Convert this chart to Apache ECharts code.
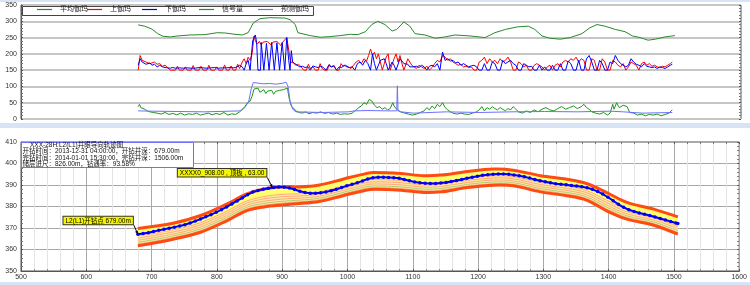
<!DOCTYPE html>
<html><head><meta charset="utf-8">
<script src="https://cdn.jsdelivr.net/npm/echarts/dist/echarts.min.js"></script>
<style>html,body{margin:0;padding:0;background:#fff}#c{width:750px;height:285px}</style>
</head><body><div id="c"></div>
<script>
// ---------- top panel: gamma logs, [depth, value] ----------
var avgGamma = [[679,289],[689,285],[700,276],[709,262],[717,254],[728,252],[740,255],[758,258],[781,259],[800,265],[812,264],[827,260],[838,258],[847,265],[855,295],[865,308],[880,311],[903,310],[911,305],[919,290],[923,265],[942,256],[957,251],[972,253],[987,256],[1003,260],[1015,259],[1026,268],[1036,290],[1045,300],[1056,290],[1067,270],[1074,275],[1085,298],[1094,285],[1102,262],[1117,258],[1133,248],[1148,252],[1163,258],[1186,255],[1209,250],[1224,265],[1240,275],[1259,283],[1275,285],[1285,275],[1296,255],[1308,248],[1324,245],[1339,250],[1357,262],[1369,280],[1380,290],[1392,285],[1408,275],[1423,268],[1434,255],[1446,250],[1458,242],[1469,245],[1484,252],[1499,256]];

var upGamma = [[679,150],[682,195],[685,180],[688,185],[691,175],[694,178],[697,170],[700,172],[704,175],[708,168],[712,170],[716,162],[720,165],[724,158],[728,150],[736,150],[739,162],[742,150],[748,150],[751,160],[754,150],[760,150],[763,164],[766,150],[772,150],[775,162],[778,150],[784,150],[787,165],[790,150],[796,150],[799,160],[802,150],[808,150],[811,166],[814,150],[818,150],[821,163],[824,150],[828,150],[831,168],[834,155],[838,175],[841,185],[844,170],[847,190],[850,180],[853,200],[856,255],[858,240],[861,230],[864,238],[867,228],[870,236],[873,230],[876,238],[879,232],[882,228],[885,236],[888,230],[891,238],[894,232],[897,226],[900,236],[903,232],[906,250],[908,255],[910,200],[912,175],[916,172],[920,165],[924,168],[928,160],[932,150],[936,150],[939,168],[942,155],[946,160],[950,150],[954,150],[957,170],[960,155],[964,150],[968,150],[971,168],[974,160],[978,165],[982,150],[986,150],[989,170],[992,162],[996,165],[1000,160],[1004,155],[1008,165],[1012,175],[1016,180],[1020,170],[1024,185],[1028,178],[1031,195],[1034,215],[1037,195],[1040,205],[1043,185],[1046,200],[1049,175],[1052,150],[1055,150],[1058,190],[1061,200],[1064,150],[1067,150],[1070,185],[1073,200],[1076,175],[1079,195],[1082,170],[1085,150],[1088,150],[1091,185],[1094,175],[1097,165],[1100,160],[1104,155],[1108,165],[1112,160],[1116,155],[1120,162],[1124,150],[1128,158],[1132,170],[1136,180],[1140,175],[1144,195],[1148,190],[1152,180],[1156,185],[1160,175],[1164,170],[1168,165],[1172,168],[1176,160],[1180,162],[1184,158],[1188,160],[1192,150],[1196,150],[1200,175],[1204,180],[1208,190],[1212,170],[1216,185],[1220,175],[1224,180],[1228,170],[1232,185],[1236,175],[1240,180],[1244,190],[1248,175],[1252,150],[1256,150],[1260,175],[1264,170],[1268,160],[1272,165],[1276,150],[1280,150],[1284,165],[1288,170],[1292,165],[1296,160],[1300,150],[1304,160],[1308,165],[1312,150],[1316,165],[1320,170],[1324,160],[1328,175],[1332,180],[1336,175],[1340,185],[1344,180],[1348,190],[1352,175],[1356,185],[1360,180],[1364,150],[1368,150],[1372,185],[1376,180],[1380,150],[1384,150],[1388,185],[1392,175],[1396,150],[1400,150],[1404,180],[1408,175],[1412,165],[1416,160],[1420,170],[1424,150],[1428,160],[1432,175],[1436,170],[1440,165],[1444,150],[1448,170],[1452,175],[1456,165],[1460,170],[1464,162],[1468,165],[1472,160],[1476,158],[1480,162],[1484,160],[1488,165],[1492,170],[1495,175]];

var downGamma = [[679,165],[682,185],[685,175],[688,170],[691,168],[694,165],[697,172],[700,165],[704,168],[708,160],[712,165],[716,160],[720,158],[724,157],[728,156],[732,158],[736,156],[739,160],[742,157],[748,156],[751,158],[754,157],[760,156],[763,160],[766,156],[772,158],[775,160],[778,157],[784,156],[787,162],[790,157],[796,158],[799,160],[802,156],[808,157],[811,162],[814,157],[818,158],[821,160],[824,157],[828,158],[831,162],[834,165],[838,160],[841,150],[844,170],[847,180],[850,150],[853,150],[854,240],[858,258],[860,235],[862,150],[866,150],[867,235],[870,238],[871,150],[874,150],[875,232],[878,236],[879,150],[882,150],[883,235],[886,238],[887,150],[890,150],[891,234],[894,236],[895,150],[898,150],[899,235],[902,240],[903,150],[905,150],[906,250],[908,255],[909,180],[911,150],[913,210],[915,175],[918,170],[922,165],[926,160],[930,162],[934,158],[938,160],[942,150],[946,163],[950,160],[954,158],[958,162],[962,158],[966,150],[970,165],[974,160],[978,162],[982,150],[986,160],[990,158],[994,165],[998,160],[1002,158],[1006,160],[1010,150],[1014,170],[1018,175],[1022,165],[1026,180],[1030,170],[1034,150],[1037,200],[1040,170],[1043,150],[1046,150],[1049,180],[1052,175],[1055,185],[1058,170],[1061,150],[1064,150],[1067,175],[1070,165],[1073,150],[1076,150],[1079,185],[1082,178],[1085,170],[1088,175],[1091,168],[1094,160],[1097,165],[1100,160],[1104,162],[1108,158],[1112,165],[1116,160],[1120,150],[1124,162],[1128,165],[1132,160],[1136,170],[1140,150],[1144,205],[1148,180],[1152,185],[1156,178],[1160,180],[1164,172],[1168,175],[1172,165],[1176,170],[1180,165],[1184,160],[1188,163],[1192,165],[1196,160],[1200,150],[1204,150],[1208,170],[1212,150],[1216,150],[1220,175],[1224,170],[1228,150],[1232,150],[1236,180],[1240,170],[1244,175],[1248,180],[1252,170],[1256,165],[1260,150],[1264,150],[1268,170],[1272,165],[1276,160],[1280,162],[1284,150],[1288,150],[1292,165],[1296,150],[1300,160],[1304,150],[1308,150],[1312,165],[1316,150],[1320,150],[1324,170],[1328,150],[1332,150],[1336,178],[1340,170],[1344,150],[1348,150],[1352,180],[1356,150],[1360,150],[1364,185],[1368,195],[1372,175],[1376,150],[1380,150],[1384,180],[1388,170],[1392,150],[1396,150],[1400,175],[1404,170],[1408,195],[1412,180],[1416,170],[1420,165],[1424,160],[1428,165],[1432,185],[1436,175],[1440,168],[1444,165],[1448,160],[1452,170],[1456,162],[1460,160],[1464,158],[1468,160],[1472,155],[1476,160],[1480,158],[1484,155],[1488,160],[1492,165],[1495,168]];

var signalAmt = [[679,38],[681,45],[683,35],[686,40],[689,30],[693,25],[697,22],[702,20],[708,18],[714,15],[720,20],[726,14],[732,17],[738,13],[744,18],[750,12],[756,16],[762,14],[768,18],[774,12],[780,15],[786,18],[792,13],[798,17],[804,14],[810,20],[816,12],[822,16],[828,14],[834,22],[838,30],[842,38],[846,50],[850,55],[853,70],[856,92],[859,88],[862,95],[865,82],[868,80],[871,90],[874,78],[877,86],[880,82],[883,88],[886,76],[889,85],[892,80],[895,88],[898,84],[901,90],[904,86],[907,95],[910,60],[913,40],[916,35],[920,25],[925,20],[930,18],[935,22],[940,16],[946,20],[952,18],[958,22],[964,17],[970,20],[976,15],[982,18],[988,14],[994,16],[1000,15],[1006,18],[1012,28],[1016,35],[1020,40],[1024,50],[1028,45],[1032,60],[1036,55],[1040,42],[1044,35],[1048,38],[1052,30],[1056,35],[1060,28],[1064,32],[1068,50],[1070,40],[1074,30],[1080,22],[1086,18],[1092,15],[1098,12],[1104,15],[1110,20],[1116,25],[1120,35],[1124,28],[1128,40],[1132,32],[1136,45],[1140,38],[1144,50],[1148,35],[1152,28],[1156,22],[1160,18],[1166,15],[1172,18],[1178,15],[1184,14],[1190,18],[1196,22],[1200,28],[1204,38],[1208,25],[1212,35],[1216,30],[1220,38],[1224,32],[1228,28],[1232,35],[1236,30],[1240,25],[1244,32],[1248,28],[1252,38],[1256,30],[1260,22],[1266,18],[1272,25],[1278,20],[1284,28],[1290,22],[1296,30],[1302,35],[1308,28],[1314,25],[1320,32],[1326,38],[1332,30],[1338,35],[1344,40],[1350,32],[1356,38],[1360,45],[1364,35],[1368,30],[1372,22],[1378,18],[1384,15],[1390,20],[1396,12],[1400,18],[1404,45],[1406,30],[1410,50],[1414,35],[1420,42],[1426,38],[1430,20],[1436,18],[1442,12],[1448,15],[1454,10],[1460,14],[1466,12],[1472,15],[1478,10],[1484,14],[1490,18],[1495,28]];

var predGamma = [[679,25],[700,24],[740,23],[780,22],[820,24],[836,25],[842,35],[848,55],[852,95],[855,112],[858,110],[870,108],[880,109],[890,107],[900,110],[905,113],[908,100],[911,55],[915,30],[920,22],[960,20],[1000,22],[1010,25],[1030,26],[1060,25],[1074,25],[1075,102],[1076,25],[1080,22],[1100,18],[1150,22],[1200,20],[1250,22],[1300,23],[1350,22],[1400,24],[1420,22],[1450,18],[1495,20]];

var legendNames = ['平均伽玛','上伽玛','下伽玛','信号量','预测伽玛'];

// ---------- bottom panel: trajectory ----------
var trajDepth = [679,687,695,703,711,719,727,735,743,751,759,767,775,783,791,799,807,815,823,831,839,847,855,863,871,879,887,895,903,911,919,927,935,943,951,959,967,975,983,991,999,1007,1015,1023,1031,1039,1047,1055,1063,1071,1079,1087,1095,1103,1111,1119,1127,1135,1143,1151,1159,1167,1175,1183,1191,1199,1207,1215,1223,1231,1239,1247,1255,1263,1271,1279,1287,1295,1303,1311,1319,1327,1335,1343,1351,1359,1367,1375,1383,1391,1399,1407,1415,1423,1431,1439,1447,1455,1463,1471,1479,1487,1495,1503,1506];
var trajTvd = [367.1,367.4,367.8,368.4,368.9,369.4,369.9,370.4,370.9,371.5,372.3,373.2,374.2,375.2,376.2,377.3,378.5,379.8,381.2,382.6,384.0,385.5,386.7,387.5,388.0,388.5,388.8,389.1,389.0,388.6,387.9,387.1,386.5,386.2,386.2,386.4,386.8,387.3,388.0,388.8,389.6,390.3,391.0,391.9,392.8,393.4,393.6,393.6,393.5,393.4,393.1,392.6,392.0,391.4,391.0,390.8,390.7,390.7,390.9,391.2,391.6,392.1,392.6,393.1,393.6,394.1,394.5,394.8,395.0,395.1,395.1,395.0,394.7,394.3,393.8,393.2,392.6,392.0,391.5,391.0,390.6,390.3,390.1,389.8,389.5,389.2,388.7,388.0,387.0,385.8,384.3,382.7,381.0,379.6,378.5,377.7,377.0,376.4,375.8,375.1,374.4,373.7,373.0,372.3,372.1];

var bandDepth  = [679,733,774,815,845,872,903,926,957,993,1028,1041,1082,1117,1143,1184,1224,1254,1296,1336,1366,1397,1428,1469,1506];
var bandTop    = [369.8,372.2,375.7,381.1,385.7,388.1,389.3,389.1,390.0,392.7,395.3,395.8,395.3,394.3,394.6,396.3,397.4,396.9,394.3,392.7,390.7,386.5,381.9,378.8,375.2];
var bandBottom = [361.7,364.8,367.9,373.3,378.0,379.8,380.8,381.4,382.3,385.0,387.6,388.0,387.6,386.5,386.8,388.8,389.9,389.6,386.8,385.0,383.0,378.0,374.1,371.3,367.1];

var startPoint = [679, 367.1];
var roofPoint  = [885, 388.8];
var startLabel = 'L2(L1)开钻点 679.00m';
var roofLabel  = 'XXXX0_908.00 , 顶板 , 63.00';
var infoLines = ['XXX-28H:L2(L1)井眼导向轨迹图',
  '开钻时间：2013-12-31 04:00:00，开钻井深：679.00m',
  '完钻时间：2014-01-01 15:30:00，完钻井深：1506.00m',
  '储层进尺：826.00m，钻遇率：93.58%'];

// ---------- chart ----------
var FONT = 'Liberation Sans, DejaVu Sans, Noto Sans CJK SC';
var chart = echarts.init(document.getElementById('c'), null, {renderer:'canvas'});
var trajData = trajDepth.map(function(d,i){return [d, trajTvd[i]];});
function plain(v){ return String(v); }

var legendLefts = [37, 87, 142, 199, 258];
var legends = legendNames.map(function(n,i){
  return {data:[n], left:legendLefts[i], top:6, icon:'rect', itemWidth:15, itemHeight:1.2, itemGap:0,
    padding:0, textStyle:{fontSize:7, color:'#222', fontFamily:FONT, padding:[0,0,0,3]}, selectedMode:false, z:6};
});

function lineSeries(name, data, color, width){
  return {name:name, type:'line', xAxisIndex:0, yAxisIndex:0, data:data, symbol:'none',
    lineStyle:{color:color, width:width||1}, itemStyle:{color:color}, animation:false, z:3};
}

var option = {
  backgroundColor:'#ffffff',
  animation:false,
  legend: legends,
  grid:[
    {left:21, right:9, top:5, height:114, show:true, borderColor:'#555', borderWidth:1, backgroundColor:'#fff'},
    {left:21, right:9, top:142, height:129, show:true, borderColor:'#555', borderWidth:1, backgroundColor:'#fff'}
  ],
  xAxis:[
    {gridIndex:0, type:'value', min:500, max:1600, interval:100, axisLabel:{show:false}, axisTick:{show:false}, axisLine:{show:false}, splitLine:{show:false}},
    {gridIndex:1, type:'value', min:500, max:1600, interval:100, position:'bottom',
      axisLabel:{fontSize:7, color:'#333', fontFamily:FONT, margin:3, formatter:plain},
      axisTick:{show:true, inside:true, length:2, lineStyle:{color:'#555'}},
      minorTick:{show:true, splitNumber:5, length:2, lineStyle:{color:'#888'}},
      axisLine:{show:true, lineStyle:{color:'#555'}},
      splitLine:{show:true, lineStyle:{color:'#a8a8a8', width:1}},
      minorSplitLine:{show:true, lineStyle:{color:'#e4e4e4', width:1}}},
    {gridIndex:1, type:'value', min:500, max:1600, interval:100, position:'top',
      axisLabel:{show:false}, axisTick:{show:true, inside:true, length:2, lineStyle:{color:'#555'}},
      minorTick:{show:true, splitNumber:5, length:2, lineStyle:{color:'#777'}},
      axisLine:{show:false}, splitLine:{show:false}}
  ],
  yAxis:[
    {gridIndex:0, type:'value', min:0, max:350, interval:50,
      axisLabel:{fontSize:7, color:'#333', fontFamily:FONT, margin:4, formatter:plain},
      axisTick:{show:true, inside:true, length:2, lineStyle:{color:'#555'}},
      minorTick:{show:true, splitNumber:5, length:2, lineStyle:{color:'#777'}},
      axisLine:{show:true, lineStyle:{color:'#555'}},
      splitLine:{show:true, lineStyle:{color:'#c6c6c6', width:2}}},
    {gridIndex:0, type:'value', min:0, max:350, interval:50, position:'right',
      axisLabel:{show:false}, axisTick:{show:true, inside:true, length:2, lineStyle:{color:'#555'}},
      minorTick:{show:true, splitNumber:5, length:2, lineStyle:{color:'#777'}},
      axisLine:{show:false}, splitLine:{show:false}},
    {gridIndex:1, type:'value', min:350, max:410, interval:10,
      axisLabel:{fontSize:7, color:'#333', fontFamily:FONT, margin:4, formatter:plain},
      axisTick:{show:true, inside:true, length:2, lineStyle:{color:'#555'}},
      minorTick:{show:true, splitNumber:5, length:2, lineStyle:{color:'#777'}},
      axisLine:{show:true, lineStyle:{color:'#555'}},
      splitLine:{show:true, lineStyle:{color:'#a8a8a8', width:1}}},
    {gridIndex:1, type:'value', min:350, max:410, interval:10, position:'right',
      axisLabel:{show:false}, axisTick:{show:true, inside:true, length:2, lineStyle:{color:'#555'}},
      minorTick:{show:true, splitNumber:5, length:2, lineStyle:{color:'#777'}},
      axisLine:{show:false}, splitLine:{show:false}}
  ],
  series:[
    lineSeries(legendNames[0], avgGamma, '#2a8a2a'),
    lineSeries(legendNames[1], upGamma, '#ff0000'),
    lineSeries(legendNames[2], downGamma, '#0000ff'),
    lineSeries(legendNames[3], signalAmt, '#1e961e'),
    lineSeries(legendNames[4], predGamma, '#6f6fff'),
    {type:'custom', xAxisIndex:1, yAxisIndex:2, data:[[bandDepth[0], bandTop[0]]], silent:true, z:2, animation:false,
      renderItem:function(params, api){
        var tops = bandDepth.map(function(d,i){return api.coord([d, bandTop[i]]);});
        var bots = bandDepth.map(function(d,i){return api.coord([d, bandBottom[i]]);});
        function mix(f){return tops.map(function(p,i){return [p[0]+(bots[i][0]-p[0])*f, p[1]+(bots[i][1]-p[1])*f];});}
        var sm = 0.35;
        var ch = [];
        ch.push({type:'polygon', shape:{points:tops.concat(mix(0.42).reverse())}, style:{fill:'#ffff6e'}});
        ch.push({type:'polygon', shape:{points:mix(0.42).concat(bots.slice().reverse())}, style:{fill:'#ffe9a6'}});
        [0.42,0.55,0.68,0.9].forEach(function(f){
          ch.push({type:'polyline', shape:{points:mix(f), smooth:sm}, style:{stroke:'#ffab7a', lineWidth:1, fill:null}});
        });
        ch.push({type:'polyline', shape:{points:mix(0.8), smooth:sm}, style:{stroke:'#a9d07a', lineWidth:1, fill:null}});
        ch.push({type:'polyline', shape:{points:tops, smooth:sm}, style:{stroke:'#ff4a12', lineWidth:3, fill:null}});
        ch.push({type:'polyline', shape:{points:bots, smooth:sm}, style:{stroke:'#ff4a12', lineWidth:3, fill:null}});
        return {type:'group', children:ch};
      }},
    {name:'轨迹', type:'line', xAxisIndex:1, yAxisIndex:2, data:trajData, symbol:'circle', symbolSize:3.5,
      lineStyle:{color:'#0000ff', width:2}, itemStyle:{color:'#0000ff'}, z:5, animation:false}
  ]
};
chart.setOption(option);

// ---------- decorations (legend frame, info box, annotations) ----------
function arrowGraphic(from, to){
  var dx = to[0]-from[0], dy = to[1]-from[1], L = Math.sqrt(dx*dx+dy*dy), ux = dx/L, uy = dy/L;
  var s = 3.5, w = 1.6;
  var b = [to[0]-ux*s, to[1]-uy*s];
  return [
    {type:'line', shape:{x1:from[0], y1:from[1], x2:b[0], y2:b[1]}, style:{stroke:'#000', lineWidth:1}, z:20},
    {type:'polygon', shape:{points:[to, [b[0]-uy*w, b[1]+ux*w], [b[0]+uy*w, b[1]-ux*w]]}, style:{fill:'#000'}, z:20}
  ];
}
function labelGraphic(text, p, dx, dy){
  var ax = p[0]+dx, ay = p[1]+dy;
  var els = arrowGraphic([ax+1, ay+1], p);
  els.push({type:'text', x:ax, y:ay, z:21, style:{text:text, align:'right', verticalAlign:'bottom',
    font:'6.5px ' + FONT, fill:'#000', backgroundColor:'#f5f500', borderColor:'#333', borderWidth:1, padding:[1,2,0,2]}});
  return els;
}
var g0 = chart.convertToPixel({gridIndex:1}, [500, 410]);
var gs = chart.convertToPixel({gridIndex:1}, startPoint);
var gr = chart.convertToPixel({gridIndex:1}, roofPoint);
var els = [
  {type:'rect', shape:{x:0, y:0, width:750, height:2}, style:{fill:'#d6e4f6'}, z:0},
  {type:'rect', shape:{x:0, y:123, width:750, height:5}, style:{fill:'#d6e4f6'}, z:0},
  {type:'rect', shape:{x:0, y:282, width:750, height:3}, style:{fill:'#d6e4f6'}, z:0},
  {type:'rect', shape:{x:22.5, y:6.5, width:291, height:9}, style:{fill:'#fff', stroke:'#444', lineWidth:1}, z:4},
  {type:'rect', shape:{x:g0[0]+0.5, y:g0[1]+0.5, width:172, height:25}, style:{fill:'#fff', stroke:'#7070ff', lineWidth:1}, z:30}
];
infoLines.forEach(function(t,i){
  els.push({type:'text', x:g0[0] + (i===0 ? 9 : 1.5), y:g0[1] + 3.5 + i*6.2, z:31,
    style:{text:t, font:'6.5px ' + FONT, fill:'#111', verticalAlign:'middle'}});
});
els = els.concat(labelGraphic(startLabel, gs, -5, -10));
els = els.concat(labelGraphic(roofLabel, gr, -6, -11));
chart.setOption({graphic:{elements:els}});
</script></body></html>
